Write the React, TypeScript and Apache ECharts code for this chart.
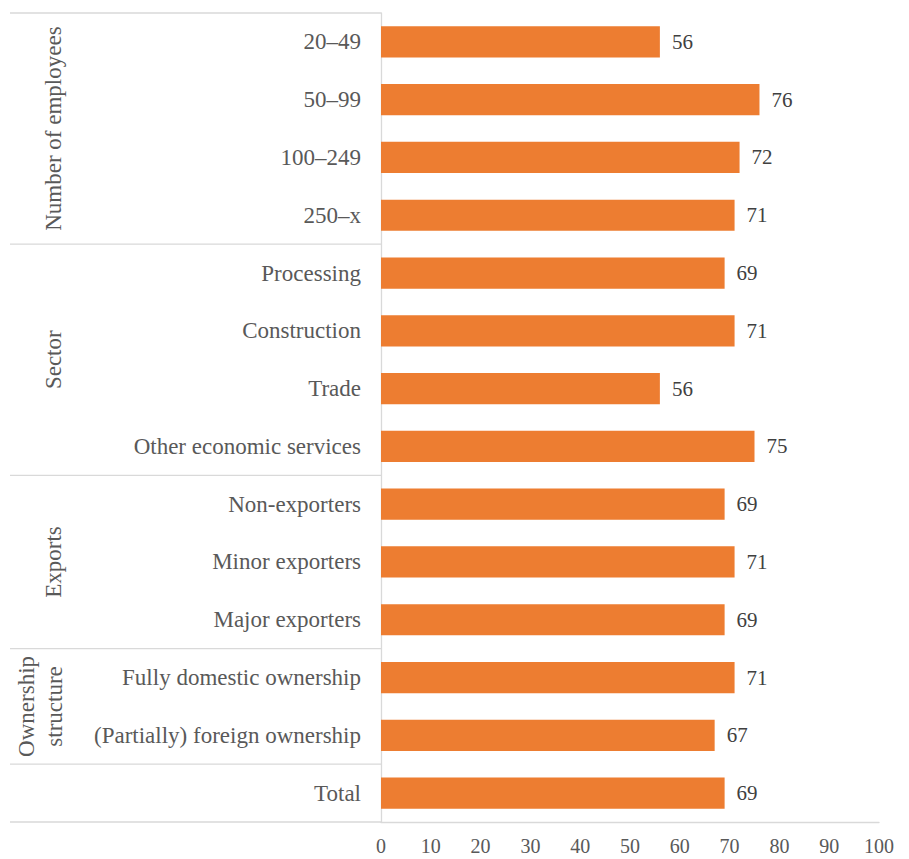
import React, { useEffect, useRef } from "react";
import * as echarts from "echarts";

const categories = [
  "20–49",
  "50–99",
  "100–249",
  "250–x",
  "Processing",
  "Construction",
  "Trade",
  "Other economic services",
  "Non-exporters",
  "Minor exporters",
  "Major exporters",
  "Fully domestic ownership",
  "(Partially) foreign ownership",
  "Total",
];
const values = [56, 76, 72, 71, 69, 71, 56, 75, 69, 71, 69, 71, 67, 69];
const groupNames = ["Number of employees", "Sector", "Exports", "Ownership\nstructure", ""];
const groupSizes = [4, 4, 3, 2, 1];
const xMin = 0;
const xMax = 100;
const xInterval = 10;

const FONT = "'Liberation Serif', 'Times New Roman', serif";

export default function App() {
  const ref = useRef<HTMLDivElement>(null);
  useEffect(() => {
    document.body.style.margin = "0";
    if (!ref.current) return;
    const chart = echarts.init(ref.current, undefined, { renderer: "svg" });
    const gridLeft = 381;
    const gridTop = 13;
    const gridWidth = 498;
    const gridHeight = 809;
    const rowH = gridHeight / categories.length;
    const lineStyle = { stroke: "#D9D9D9", lineWidth: 1.3 };
    const graphics: any[] = [];
    let k = 0;
    graphics.push({
      type: "line",
      shape: { x1: 10, y1: gridTop, x2: gridLeft, y2: gridTop },
      style: lineStyle,
      silent: true,
    });
    groupSizes.forEach((size, i) => {
      const start = k;
      k += size;
      const yEnd = gridTop + k * rowH;
      graphics.push({
        type: "line",
        shape: { x1: 10, y1: yEnd, x2: gridLeft, y2: yEnd },
        style: lineStyle,
        silent: true,
      });
      const name = groupNames[i];
      if (name) {
        const twoLine = name.indexOf("\n") >= 0;
        graphics.push({
          type: "text",
          x: twoLine ? 40 : 53,
          y: gridTop + ((start + k) / 2) * rowH,
          rotation: Math.PI / 2,
          style: {
            text: name,
            align: "center",
            verticalAlign: "middle",
            fontSize: 23,
            lineHeight: 28,
            fontFamily: FONT,
            fill: "#595959",
          },
          silent: true,
        });
      }
    });
    chart.setOption({
      animation: false,
      backgroundColor: "#ffffff",
      grid: {
        left: gridLeft,
        top: gridTop,
        width: gridWidth,
        height: gridHeight,
        outerBoundsMode: "none",
      },
      xAxis: {
        type: "value",
        min: xMin,
        max: xMax,
        interval: xInterval,
        axisLine: { show: true, lineStyle: { color: "#D9D9D9", width: 1.3 } },
        axisTick: { show: false },
        splitLine: { show: false },
        axisLabel: {
          fontSize: 20,
          color: "#595959",
          fontFamily: FONT,
          margin: 14,
        },
      },
      yAxis: {
        type: "category",
        inverse: true,
        data: categories,
        axisLine: { show: true, lineStyle: { color: "#D9D9D9", width: 1.3 } },
        axisTick: { show: false },
        splitLine: { show: false },
        axisLabel: {
          fontSize: 23,
          color: "#595959",
          fontFamily: FONT,
          margin: 20,
        },
      },
      series: [
        {
          type: "bar",
          data: values,
          barWidth: "54%",
          itemStyle: { color: "#ED7D31" },
          label: {
            show: true,
            position: "right",
            distance: 12,
            fontSize: 21,
            color: "#404040",
            fontFamily: FONT,
          },
        },
      ],
      graphic: graphics,
    });
    return () => chart.dispose();
  }, []);
  return <div ref={ref} style={{ width: 909, height: 859 }} />;
}
